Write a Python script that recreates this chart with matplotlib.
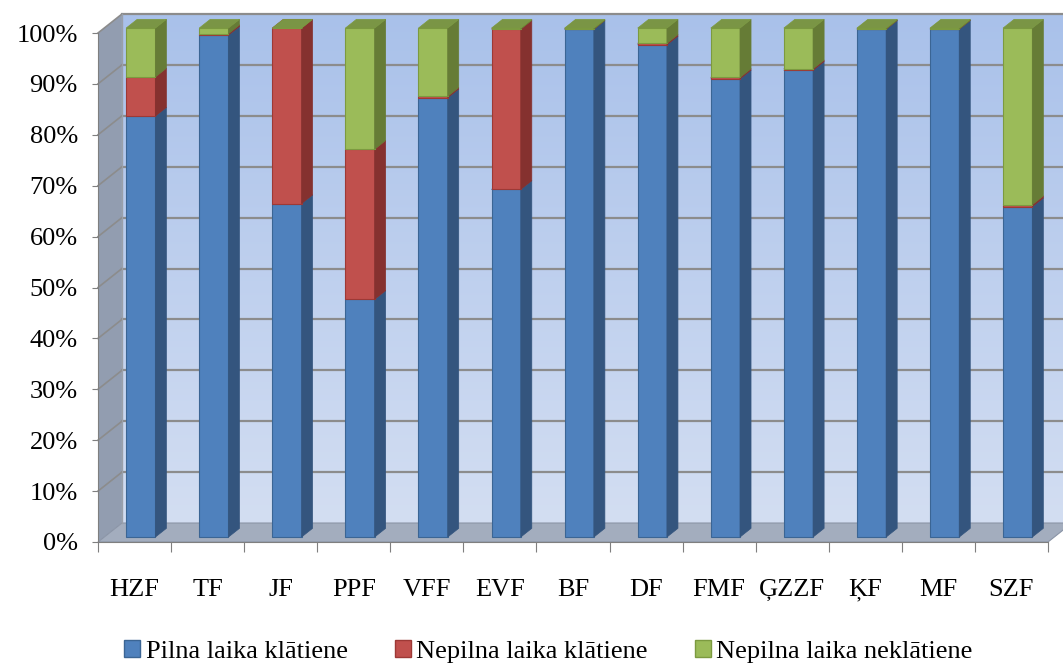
import numpy as np
import matplotlib.pyplot as plt
from matplotlib.patches import Polygon, Patch
from matplotlib.ticker import FuncFormatter
from matplotlib.colors import LinearSegmentedColormap

categories = ['HZF', 'TF', 'JF', 'PPF', 'VFF', 'EVF', 'BF', 'DF', 'FMF', 'ĢZZF', 'ĶF', 'MF', 'SZF']
full_time = [82.7, 98.6, 65.5, 46.7, 86.3, 68.3, 99.8, 96.7, 90.0, 91.7, 99.8, 99.8, 64.9]
part_time = [7.7, 0.3, 34.5, 29.5, 0.3, 31.5, 0.0, 0.3, 0.3, 0.3, 0.0, 0.0, 0.4]
part_time_distance = [9.6, 1.1, 0.0, 23.8, 13.4, 0.2, 0.2, 3.0, 9.7, 8.0, 0.2, 0.2, 34.7]
series_names = ['Pilna laika klātiene', 'Nepilna laika klātiene', 'Nepilna laika neklātiene']

front_col = ['#4f81bd', '#c0504d', '#9bbb59']
side_col = ['#34557e', '#85312f', '#667c36']
top_col = ['#3d6696', '#9b3b39', '#7a9545']
edge_col = ['#3b6594', '#9d3936', '#7c9a40']

# fake 3d depth (category units, percent units)
DX, DY = 0.328, 3.73
F0, F1 = 0.26, 0.72
BW = 0.40

plt.rcParams['font.family'] = ['Liberation Serif', 'DejaVu Serif']

fig = plt.figure(figsize=(10.63, 6.66), dpi=100)
ax = fig.add_axes([98 / 1063, (666 - 542) / 666, 950 / 1063, 509 / 666])
n = len(categories)
x0, x1 = -0.5, n - 0.5

# back wall gradient
grad = np.linspace(0, 1, 256).reshape(-1, 1)
wall_cmap = LinearSegmentedColormap.from_list('wall', ['#d3def2', '#a9c1ea'])
ax.imshow(grad, extent=[x0 + DX, x1 + DX, DY, 100 + DY], origin='lower', cmap=wall_cmap,
          aspect='auto', zorder=0, clip_on=False)

# side wall and floor
side = Polygon([(x0, 0), (x0 + DX, DY), (x0 + DX, 100 + DY), (x0, 100)], closed=True,
               facecolor='#929db0', edgecolor='none', zorder=1, clip_on=False)
ax.add_patch(side)
floor = Polygon([(x0, 0), (x1, 0), (x1 + DX, DY), (x0 + DX, DY)], closed=True,
                facecolor='#a3adbe', edgecolor='#8a94a6', lw=0.8, zorder=1, clip_on=False)
ax.add_patch(floor)

# gridlines on the back wall and side wall
for v in range(10, 101, 10):
    ax.plot([x0 + DX, x1 + DX], [v + DY, v + DY], color='#8c8c8c', lw=1.6, zorder=2, clip_on=False)
    ax.plot([x0, x0 + DX], [v, v + DY], color='#8c8c8c', lw=1.2, zorder=2, clip_on=False)
ax.plot([x0 + DX, x0 + DX], [DY, 100 + DY], color='#9aa0aa', lw=1.0, zorder=2, clip_on=False)

# stacked bars
series = [full_time, part_time, part_time_distance]
for i in range(n):
    bottom = 0.0
    xl = i + F0 * DX - BW / 2
    xr = xl + BW
    ddx = (F1 - F0) * DX
    ddy = (F1 - F0) * DY
    for s in range(3):
        val = series[s][i]
        b = bottom + F0 * DY
        t = bottom + val + F0 * DY
        z = 5 + s
        ax.add_patch(Polygon([(xl, b), (xr, b), (xr, t), (xl, t)], closed=True,
                             facecolor=front_col[s], edgecolor=edge_col[s], lw=0.8,
                             zorder=z, clip_on=False))
        ax.add_patch(Polygon([(xr, b), (xr + ddx, b + ddy), (xr + ddx, t + ddy), (xr, t)], closed=True,
                             facecolor=side_col[s], edgecolor=side_col[s], lw=0.5,
                             zorder=z, clip_on=False))
        ax.add_patch(Polygon([(xl, t), (xr, t), (xr + ddx, t + ddy), (xl + ddx, t + ddy)], closed=True,
                             facecolor=top_col[s], edgecolor=edge_col[s], lw=0.5,
                             zorder=z, clip_on=False))
        bottom += val

ax.set_xlim(x0, x1)
ax.set_ylim(0, 100)

for sp in ['top', 'right']:
    ax.spines[sp].set_visible(False)
ax.spines['left'].set_color('#7f7f7f')
ax.spines['bottom'].set_color('#7f7f7f')
ax.spines['left'].set_zorder(3)
ax.spines['bottom'].set_zorder(3)

ax.set_yticks(range(0, 101, 10))
ax.yaxis.set_major_formatter(FuncFormatter(lambda v, p: '%d%%' % v))
ax.tick_params(axis='y', labelsize=19, length=4.5, color='#7f7f7f', pad=10)
ax.set_xticks(np.arange(x0, x1 + 0.01, 1.0))
ax.set_xticklabels([])
ax.set_xticks(np.arange(n), minor=True)
ax.set_xticklabels(categories, minor=True)
ax.tick_params(axis='x', which='major', length=7, color='#7f7f7f')
ax.tick_params(axis='x', which='minor', length=0, labelsize=19, pad=26.5)

handles = [Patch(facecolor=front_col[s], edgecolor=edge_col[s], label=series_names[s]) for s in range(3)]
fig.legend(handles=handles, loc='center', bbox_to_anchor=(0.516, 0.022), ncol=3, frameon=False,
           fontsize=19, handlelength=0.6, handleheight=0.6, handletextpad=0.2, columnspacing=1.8)

fig.savefig('out.png', dpi=100)
